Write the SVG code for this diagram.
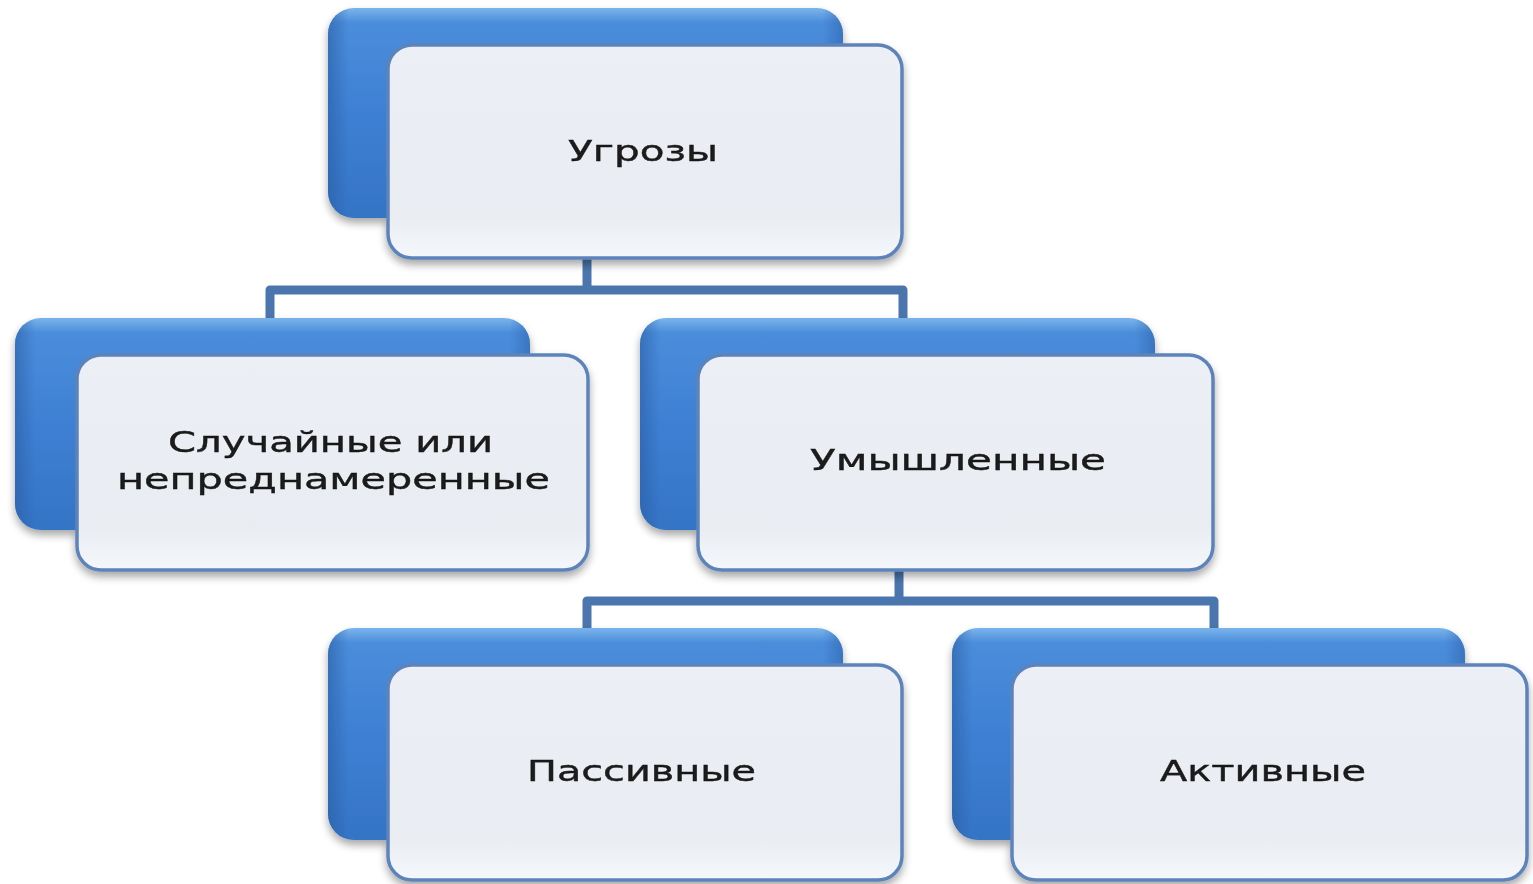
<svg xmlns="http://www.w3.org/2000/svg" width="1533" height="884" viewBox="0 0 1533 884">
<defs>
<linearGradient id="blue" x1="0" y1="0" x2="0" y2="1">
<stop offset="0" stop-color="#7ab4ec"/>
<stop offset="0.07" stop-color="#4b8ddb"/>
<stop offset="0.5" stop-color="#3e80d3"/>
<stop offset="1" stop-color="#3474c5"/>
</linearGradient>
<linearGradient id="blueSide" x1="0" y1="0" x2="1" y2="0">
<stop offset="0" stop-color="#2a5ea6" stop-opacity="0.6"/>
<stop offset="0.04" stop-color="#2a5ea6" stop-opacity="0"/>
<stop offset="0.96" stop-color="#2a5ea6" stop-opacity="0"/>
<stop offset="1" stop-color="#2a5ea6" stop-opacity="0.5"/>
</linearGradient>
<linearGradient id="front" x1="0" y1="0" x2="0" y2="1">
<stop offset="0" stop-color="#eceff5"/>
<stop offset="0.8" stop-color="#e9ecf1"/>
<stop offset="1" stop-color="#f4f7fb"/>
</linearGradient>
<filter id="sh" x="-10%" y="-10%" width="120%" height="130%">
<feGaussianBlur in="SourceAlpha" stdDeviation="4"/>
<feOffset dx="0" dy="5" result="b"/>
<feComponentTransfer><feFuncA type="linear" slope="0.35"/></feComponentTransfer>
<feMerge><feMergeNode/><feMergeNode in="SourceGraphic"/></feMerge>
</filter>
</defs>
<style>
.back{fill:url(#blue);}
.backs{fill:url(#blueSide);}
.front{fill:url(#front);stroke:#5d84ba;stroke-width:3.5;}
.conn{fill:none;stroke:#4a76ad;stroke-width:9;stroke-linejoin:round;}
.t{font-family:"DejaVu Sans","Liberation Sans",sans-serif;font-size:28px;fill:#1a1a1a;stroke:#1a1a1a;stroke-width:0.4;text-anchor:start;}
</style>
<g id="connectors">
<path class="conn" d="M587 258 V290 M270 318 V290 H903 V318"/>
<path class="conn" d="M899 570 V601 M587 628 V601 H1214 V628"/>
</g>
<g id="n-threats" filter="url(#sh)">
<rect class="back" x="328" y="8" width="515" height="210" rx="26"/>
<rect class="backs" x="328" y="8" width="515" height="210" rx="26"/>
<rect class="front" x="388" y="45" width="514" height="213" rx="24"/>
<text class="t" x="568" y="161" textLength="150" lengthAdjust="spacingAndGlyphs">Угрозы</text>
</g>
<g id="n-accidental" filter="url(#sh)">
<rect class="back" x="15" y="318" width="515" height="212" rx="26"/>
<rect class="backs" x="15" y="318" width="515" height="212" rx="26"/>
<rect class="front" x="77" y="355" width="511" height="215" rx="24"/>
<text class="t" x="168" y="452" textLength="325" lengthAdjust="spacingAndGlyphs">Случайные или</text>
<text class="t" x="117" y="489" textLength="433" lengthAdjust="spacingAndGlyphs">непреднамеренные</text>
</g>
<g id="n-intentional" filter="url(#sh)">
<rect class="back" x="640" y="318" width="515" height="212" rx="26"/>
<rect class="backs" x="640" y="318" width="515" height="212" rx="26"/>
<rect class="front" x="698" y="355" width="515" height="215" rx="24"/>
<text class="t" x="810" y="470" textLength="296" lengthAdjust="spacingAndGlyphs">Умышленные</text>
</g>
<g id="n-passive" filter="url(#sh)">
<rect class="back" x="328" y="628" width="515" height="212" rx="26"/>
<rect class="backs" x="328" y="628" width="515" height="212" rx="26"/>
<rect class="front" x="388" y="665" width="514" height="215" rx="24"/>
<text class="t" x="527" y="781" textLength="229" lengthAdjust="spacingAndGlyphs">Пассивные</text>
</g>
<g id="n-active" filter="url(#sh)">
<rect class="back" x="952" y="628" width="513" height="212" rx="26"/>
<rect class="backs" x="952" y="628" width="513" height="212" rx="26"/>
<rect class="front" x="1012" y="665" width="515" height="215" rx="24"/>
<text class="t" x="1160" y="781" textLength="206" lengthAdjust="spacingAndGlyphs">Активные</text>
</g>
</svg>
